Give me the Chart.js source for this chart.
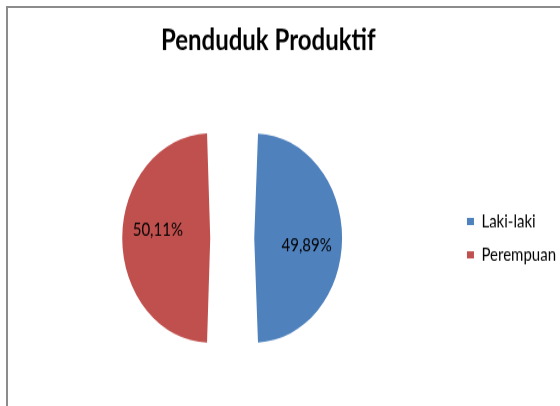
<!DOCTYPE html>
<html>
<head>
<meta charset="utf-8">
<script src="https://cdn.jsdelivr.net/npm/chart.js@4.4.1/dist/chart.umd.min.js"></script>
<style>
  body { margin: 0; background: #fff; overflow: hidden; }
  #frame { position: absolute; left: 6px; top: 6px; width: 700px; height: 600px; border: 2px solid #8c8c8c; }
  /* the original picture is stretched vertically, so the whole chart is too */
  #wrap { position: absolute; left: 0; top: 0; width: 560px; height: 341px; transform: scaleY(1.1906); transform-origin: 0 0; }
</style>
</head>
<body>
<div id="frame"></div>
<div id="wrap"><canvas id="pieChart" width="560" height="341"></canvas></div>
<script>
// Data
const categories = ['Laki-laki', 'Perempuan'];
const shares = [49.89, 50.11];
const colors = ['#4F81BD', '#C0504D'];

Chart.defaults.font.family = 'Lato, "Open Sans", sans-serif';

// Percent labels inside the slices (comma as decimal separator)
const sliceLabels = {
    id: 'sliceLabels',
    afterLayout(chart, args, opts) {
        // the title is centred over the whole Excel chart object, a bit left of the canvas middle
        const t = chart.titleBlock;
        if (t) t.right -= opts.titleShift * 2;
    },
    afterDatasetsDraw(chart, args, opts) {
        const ctx = chart.ctx;
        const meta = chart.getDatasetMeta(0);
        ctx.save();
        ctx.font = '15px Lato';
        ctx.fillStyle = '#000';
        ctx.textAlign = 'center';
        ctx.textBaseline = 'middle';
        meta.data.forEach((arc, i) => {
            const p = arc.getProps(['x', 'y', 'startAngle', 'endAngle', 'outerRadius']);
            const mid = (p.startAngle + p.endAngle) / 2;
            const shift = arc.options.offset / 4;
            const cx = p.x + Math.cos(mid) * shift;
            const cy = p.y + Math.sin(mid) * shift;
            const r = (p.outerRadius + shift) * opts.radial;
            const a = mid + opts.turn * Math.PI / 180;
            const txt = shares[i].toFixed(2).replace('.', ',') + '%';
            ctx.fillText(txt, cx + Math.cos(a) * r, cy + Math.sin(a) * r);
        });
        ctx.restore();
    }
};

const ctx = document.getElementById('pieChart').getContext('2d');

const pieChart = new Chart(ctx, {
    type: 'pie',
    data: {
        labels: categories,
        datasets: [{
            data: shares,
            backgroundColor: colors,
            borderWidth: 0,
            offset: 88,
            radius: 66
        }]
    },
    options: {
        responsive: false,
        animation: false,
        events: [],
        rotation: 0.2,
        layout: { padding: { left: 10.5, right: -6, top: 0, bottom: 0 } },
        plugins: {
            title: {
                display: true,
                text: 'Penduduk Produktif',
                color: '#000',
                font: { size: 24, weight: 'bold' },
                padding: { top: 20, bottom: 10 }
            },
            legend: {
                position: 'right',
                fullSize: false,
                labels: {
                    color: '#000',
                    font: { size: 15 },
                    boxWidth: 7,
                    boxHeight: 6,
                    padding: 13
                }
            },
            tooltip: { enabled: false },
            sliceLabels: { radial: 0.6, turn: 7, titleShift: 20 }
        }
    },
    plugins: [sliceLabels]
});
</script>
</body>
</html>
